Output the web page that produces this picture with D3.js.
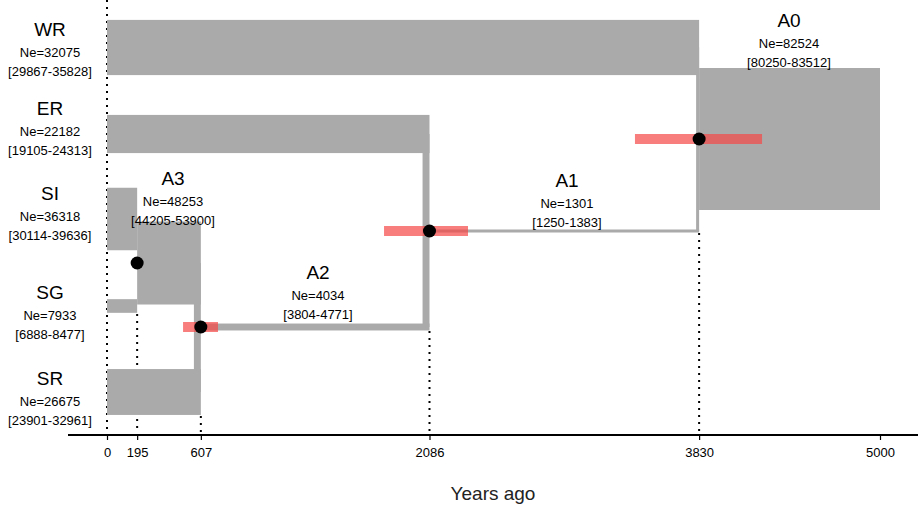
<!DOCTYPE html>
<html><head><meta charset="utf-8">
<script src="https://cdn.jsdelivr.net/npm/d3@7"></script>
<style>body{margin:0;background:#fff}text{font-family:"Helvetica Neue",Arial,"Liberation Sans",sans-serif}</style>
</head><body><svg id="c" width="922" height="508"></svg>
<script>
// populations: name, Ne, CI, start/end time (years ago)
const popNames = ["WR","ER","SI","SG","SR","A3","A2","A1","A0"];
const popNe    = [32075,22182,36318,7933,26675,48253,4034,1301,82524];
const popCI    = ["[29867-35828]","[19105-24313]","[30114-39636]","[6888-8477]","[23901-32961]",
                  "[44205-53900]","[3804-4771]","[1250-1383]","[80250-83512]"];
const popStart = [0,0,0,0,0,195,607,2086,3830];
const popEnd   = [3830,2086,195,195,607,607,2086,3830,5000];
// split events: time, CI, child populations merging into ancestor
const splitTimes = [195,607,2086,3830];
const splitCI    = [null,[492,718],[1792,2335],[3415,4237]];
const tickVals   = [0,195,607,2086,3830,5000];

// layout (vertical centres)
const centers = [47.5,134,219,306,392,263,327,231,139];

const svg = d3.select("#c");
const x = d3.scaleLinear().domain([0,5000]).range([107,880]);
const h = d3.scaleLinear().domain([0,82524]).range([0,142]);
const pops = popNames.map((n,i)=>({n,ne:popNe[i],ci:popCI[i],s:popStart[i],e:popEnd[i],c:centers[i]}));
const P = n => pops.find(p=>p.n===n);

// dotted guide lines
svg.append("line").attr("x1",x(0)).attr("x2",x(0)).attr("y1",0).attr("y2",432)
  .attr("stroke","#000").attr("stroke-width",2).attr("stroke-dasharray","2,5");
[[195,314],[607,416],[2086,331],[3830,233]].forEach(([t,y0])=>{
  svg.append("line").attr("x1",x(t)).attr("x2",x(t)).attr("y1",y0).attr("y2",432)
    .attr("stroke","#000").attr("stroke-width",2).attr("stroke-dasharray","2,5");
});

// connectors
const conns = [["A3","SR","A2",607],["ER","A2","A2",2086],["WR","A1","A1",3830]];
conns.forEach(([a,b,w,t])=>{
  const pa=P(a),pb=P(b),wd=Math.max(h(P(w).ne),3);
  svg.append("rect").attr("x",x(t)-wd).attr("width",wd)
    .attr("y",Math.min(pa.c,pb.c)).attr("height",Math.abs(pa.c-pb.c)).attr("fill","#aaaaaa");
});

// population blocks
svg.selectAll("rect.pop").data(pops).join("rect").attr("class","pop")
  .attr("x",d=>x(d.s)).attr("width",d=>x(d.e)-x(d.s))
  .attr("y",d=>d.c-Math.max(h(d.ne),3)/2).attr("height",d=>Math.max(h(d.ne),3))
  .attr("fill","#aaaaaa");

// CI bars and split dots
const dotY = [263,327,231,139];
splitTimes.forEach((t,i)=>{
  if(splitCI[i]) svg.append("rect").attr("x",x(splitCI[i][0])).attr("width",x(splitCI[i][1])-x(splitCI[i][0]))
    .attr("y",dotY[i]-5).attr("height",10).attr("fill","rgb(245,70,70)").attr("opacity",0.7);
  svg.append("circle").attr("cx",x(t)).attr("cy",dotY[i]).attr("r",6.5).attr("fill","#000");
});

// labels
const labelPos = {WR:[50,30],ER:[50,109],SI:[50,194],SG:[50,293],SR:[50,379],A3:[173,179],A2:[318,273],A1:[567,181],A0:[789,21]};
pops.forEach(p=>{
  const [lx,ly]=labelPos[p.n];
  const g=svg.append("g").attr("text-anchor","middle");
  g.append("text").attr("x",lx).attr("y",ly+6).attr("font-size",19).text(p.n);
  g.append("text").attr("x",lx).attr("y",ly+27).attr("font-size",13).text("Ne="+p.ne);
  g.append("text").attr("x",lx).attr("y",ly+46).attr("font-size",13).text(p.ci);
});

// axis
const ax = svg.append("g").attr("transform","translate(0,435)")
  .call(d3.axisBottom(x).tickValues(tickVals).tickFormat(d=>d).tickSize(5));
ax.select(".domain").remove();
ax.selectAll("text").attr("font-size",13).attr("dy","1.1em");
ax.selectAll("line").attr("stroke-width",1.2);
svg.append("line").attr("x1",68).attr("x2",918).attr("y1",435).attr("y2",435).attr("stroke","#000").attr("stroke-width",2);
svg.append("text").attr("x",493).attr("y",500).attr("text-anchor","middle").attr("font-size",19).attr("fill","#222").text("Years ago");
</script></body></html>
